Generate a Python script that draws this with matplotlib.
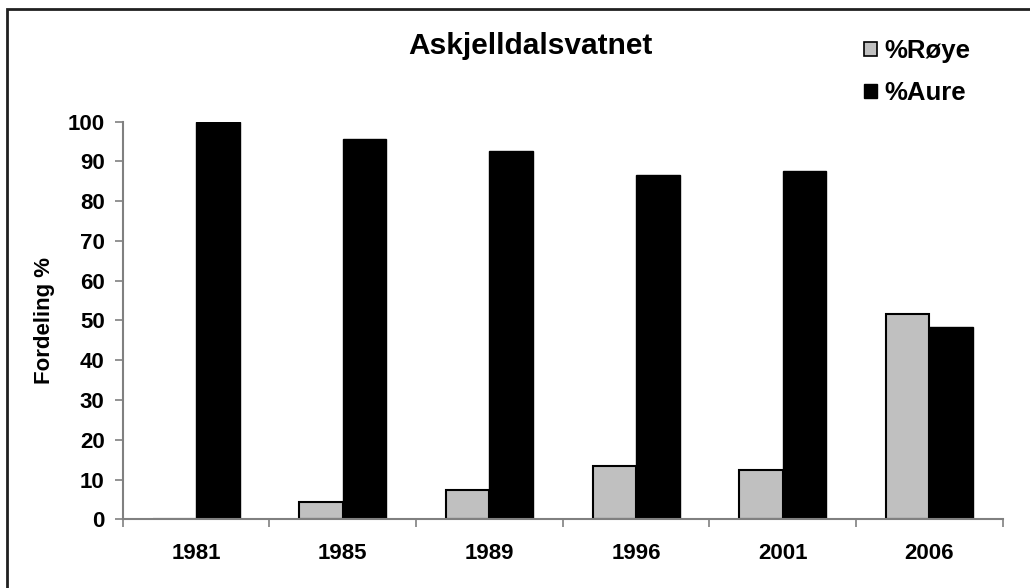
import matplotlib
matplotlib.use("Agg")
import matplotlib.pyplot as plt
from matplotlib.patches import Rectangle, Patch
import numpy as np

# data
years = ["1981", "1985", "1989", "1996", "2001", "2006"]
roye = [0, 4.4, 7.4, 13.5, 12.4, 51.7]
aure = [100, 95.6, 92.6, 86.5, 87.6, 48.3]
title = "Askjelldalsvatnet"
ylabel = "Fordeling %"
series_names = ["%Røye", "%Aure"]

plt.rcParams['font.family'] = ['Liberation Sans', 'DejaVu Sans']
plt.rcParams['font.weight'] = 'bold'

fig = plt.figure(figsize=(10.30, 5.88), dpi=100)
ax = fig.add_axes([122.7 / 1030, 1 - 519.3 / 588, 880 / 1030, 397.6 / 588])

x = np.arange(len(years))
w = 0.2965
ax.bar(x - w / 2, roye, w, color="#c0c0c0", edgecolor="black", linewidth=1.5, zorder=2)
ax.bar(x + w / 2, aure, w, color="black", edgecolor="black", linewidth=1.0, zorder=2)

ax.set_xlim(-0.5, len(years) - 0.5)
ax.set_ylim(0, 100)
ax.set_yticks(range(0, 101, 10))
ax.tick_params(axis="y", length=6, width=1.2, color="#808080", pad=7, labelsize=16)

# ticks at category boundaries, labels in the middle
ax.set_xticks(np.arange(-0.5, len(years), 1.0))
ax.set_xticklabels([])
ax.set_xticks(x, minor=True)
ax.set_xticklabels(years, minor=True)
ax.tick_params(axis="x", which="major", length=6, width=1.2, color="#808080", direction="out")
ax.tick_params(axis="x", which="minor", length=0, pad=17, labelsize=16)

for s in ["top", "right"]:
    ax.spines[s].set_visible(False)
for s in ["left", "bottom"]:
    ax.spines[s].set_color("#808080")
    ax.spines[s].set_linewidth(1.5)

ax.set_ylabel(ylabel, fontsize=16, fontweight="bold", labelpad=9)

fig.text(530 / 1030, 1 - 46 / 588, title, ha="center", va="center",
         fontsize=21.5, fontweight="bold")

handles = [Patch(facecolor="#c0c0c0", edgecolor="black", linewidth=1.2),
           Patch(facecolor="black", edgecolor="black")]
fig.legend(handles, series_names, loc="upper left", frameon=False,
           bbox_to_anchor=(864 / 1030, 1 - 39 / 588), fontsize=18.5,
           handlelength=0.5, handleheight=0.5, handletextpad=0.3,
           labelspacing=0.7, borderaxespad=0, borderpad=0)

# outer chart border (cut off at the right and bottom like the reference)
fig.patches.append(Rectangle((6.7 / 1030, -0.05), 1.2, 1 - 9.3 / 588 + 0.05,
                             transform=fig.transFigure, fill=False,
                             edgecolor="#202020", linewidth=2.0, clip_on=False))

fig.savefig("out.png", dpi=100)
